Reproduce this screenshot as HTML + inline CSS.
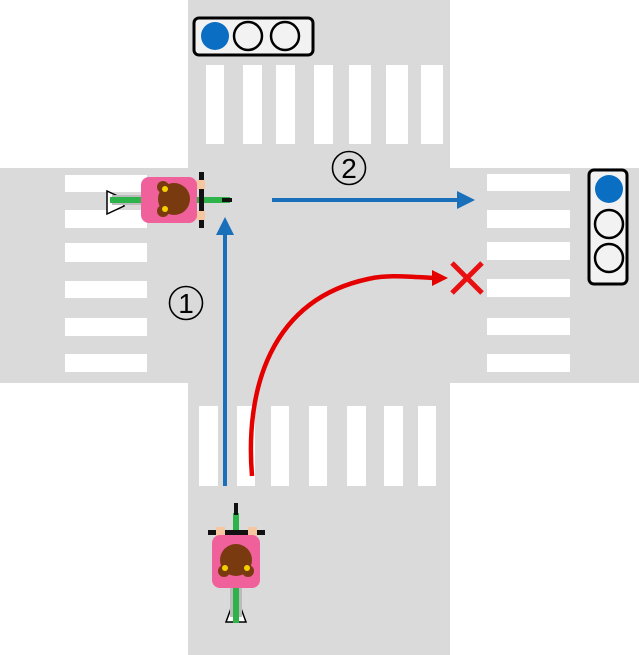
<!DOCTYPE html>
<html><head><style>html,body{margin:0;padding:0;background:#fff}svg{display:block}</style></head><body>
<svg width="639" height="655" viewBox="0 0 639 655" xmlns="http://www.w3.org/2000/svg">
<rect width="639" height="655" fill="#fff"/>
<rect x="188" y="0" width="262" height="655" fill="#dadada"/>
<rect x="0" y="168" width="639" height="215" fill="#dadada"/>
<g fill="#fff">
<rect x="206" y="65" width="18" height="79"/><rect x="243" y="65" width="19" height="79"/><rect x="276" y="65" width="19" height="79"/><rect x="314" y="65" width="19" height="79"/><rect x="349" y="65" width="22" height="79"/><rect x="386" y="65" width="22" height="79"/><rect x="421" y="65" width="22" height="79"/>
<rect x="199" y="406" width="19" height="80"/><rect x="237" y="406" width="18" height="80"/><rect x="271" y="406" width="18" height="80"/><rect x="309" y="406" width="18" height="80"/><rect x="347" y="406" width="19" height="80"/><rect x="384" y="406" width="19" height="80"/><rect x="418" y="406" width="18" height="80"/>
<rect x="65" y="175" width="82" height="17"/><rect x="65" y="210" width="82" height="18"/><rect x="65" y="243" width="82" height="19"/><rect x="65" y="281" width="82" height="17"/><rect x="65" y="318" width="82" height="18"/><rect x="65" y="354" width="82" height="18"/>
<rect x="487" y="174" width="83" height="17"/><rect x="487" y="210" width="83" height="18"/><rect x="487" y="242" width="83" height="18"/><rect x="487" y="279" width="83" height="18"/><rect x="487" y="318" width="83" height="17"/><rect x="487" y="354" width="83" height="18"/>
</g>
<rect x="194" y="18" width="119" height="37" rx="5" fill="#f2f2f2" stroke="#000" stroke-width="3"/>
<circle cx="215" cy="36" r="14" fill="#0a6ec2"/>
<circle cx="248" cy="36" r="14" fill="#f2f2f2" stroke="#000" stroke-width="2.5"/>
<circle cx="285" cy="36" r="14" fill="#f2f2f2" stroke="#000" stroke-width="2.5"/>
<rect x="589" y="170" width="38" height="114" rx="5" fill="#f2f2f2" stroke="#000" stroke-width="3"/>
<circle cx="609" cy="189" r="14" fill="#0a6ec2"/>
<circle cx="609" cy="224" r="14" fill="#f2f2f2" stroke="#000" stroke-width="2.5"/>
<circle cx="609" cy="258" r="14" fill="#f2f2f2" stroke="#000" stroke-width="2.5"/>
<line x1="225" y1="486" x2="225" y2="232" stroke="#1a6fba" stroke-width="4"/>
<polygon points="225,217 216,235 234,235" fill="#1a6fba"/>
<line x1="272" y1="200" x2="460" y2="200" stroke="#1a6fba" stroke-width="4"/>
<polygon points="475,200 457,191 457,209" fill="#1a6fba"/>
<path d="M252,476 C245,390 270,300 368,279 C390,274 410,277 435,278" fill="none" stroke="#e50000" stroke-width="4.5"/>
<polygon points="448,278 432,270 432,286" fill="#e50000"/>
<path d="M452,263 L482,293 M482,263 L452,293" stroke="#e81010" stroke-width="5"/>
<circle cx="186" cy="303" r="16.5" fill="none" stroke="#000" stroke-width="1.6"/>
<text x="186" y="313" font-family="Liberation Sans, sans-serif" font-size="28" text-anchor="middle">1</text>
<circle cx="349" cy="168" r="16.5" fill="none" stroke="#000" stroke-width="1.6"/>
<text x="349" y="178" font-family="Liberation Sans, sans-serif" font-size="28" text-anchor="middle">2</text>
<g>
<polygon points="107,191 107,214 124,206 124,199" fill="#fff" stroke="#000" stroke-width="1.5"/>
<rect x="112" y="195" width="30" height="10" fill="#bbb"/>
<rect x="110" y="197" width="120" height="6" fill="#2db34a"/>
<rect x="222" y="198" width="10" height="4" fill="#111"/>
<rect x="199" y="172" width="5" height="56" fill="#111"/>
<rect x="196" y="180" width="9" height="9" fill="#f5c6a0"/><rect x="196" y="211" width="9" height="9" fill="#f5c6a0"/>
<rect x="141" y="177" width="56" height="46" rx="8" fill="#f0609a"/>
<circle cx="174" cy="199" r="16" fill="#7a3a10"/>
<circle cx="163" cy="187" r="6" fill="#7a3a10"/><circle cx="163" cy="211" r="6" fill="#7a3a10"/>
<circle cx="165" cy="189" r="3" fill="#f5d000"/><circle cx="165" cy="209" r="3" fill="#f5d000"/>
</g>
<g>
<polygon points="226,622 246,622 239,603 233,603" fill="#fff" stroke="#000" stroke-width="1.5"/>
<rect x="230" y="585" width="12" height="32" fill="#bbb"/>
<rect x="233" y="513" width="6" height="110" fill="#2db34a"/>
<rect x="234" y="503" width="4" height="12" fill="#111"/>
<rect x="208" y="530" width="57" height="5" fill="#111"/>
<rect x="216" y="527" width="9" height="9" fill="#f5c6a0"/><rect x="248" y="527" width="9" height="9" fill="#f5c6a0"/>
<rect x="212" y="535" width="48" height="53" rx="8" fill="#f0609a"/>
<circle cx="236" cy="560" r="16" fill="#7a3a10"/>
<circle cx="224" cy="571" r="6" fill="#7a3a10"/><circle cx="248" cy="571" r="6" fill="#7a3a10"/>
<circle cx="225" cy="568" r="3" fill="#f5d000"/><circle cx="247" cy="568" r="3" fill="#f5d000"/>
</g>
</svg>
</body></html>
